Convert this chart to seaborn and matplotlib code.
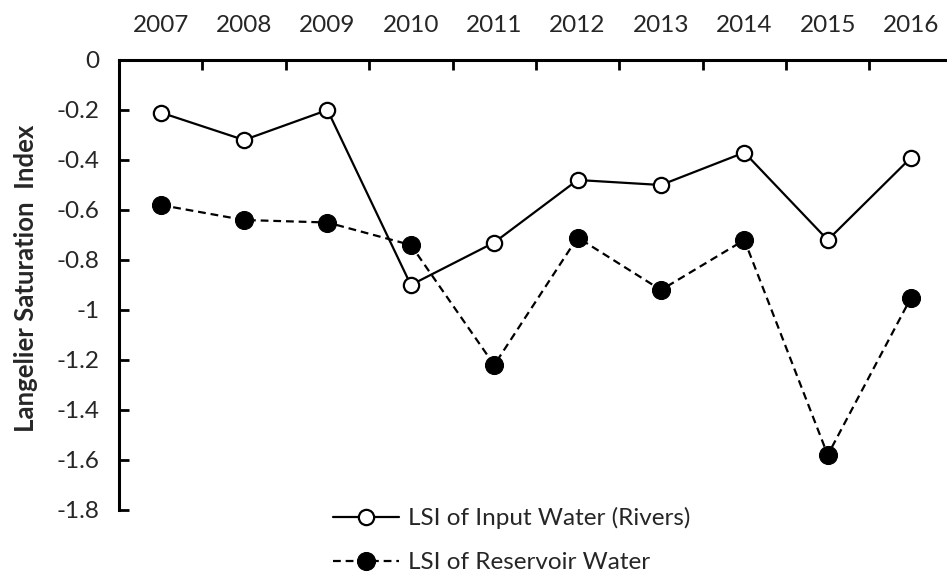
import matplotlib
matplotlib.use("Agg")
import matplotlib.pyplot as plt
import seaborn as sns
import numpy as np

years = ["2007", "2008", "2009", "2010", "2011", "2012", "2013", "2014", "2015", "2016"]
input_water = [-0.21, -0.32, -0.20, -0.90, -0.73, -0.48, -0.50, -0.37, -0.72, -0.39]
reservoir_water = [-0.58, -0.64, -0.65, -0.74, -1.22, -0.71, -0.92, -0.72, -1.58, -0.95]
y_ticks = [0, -0.2, -0.4, -0.6, -0.8, -1, -1.2, -1.4, -1.6, -1.8]
y_tick_labels = ["0", "-0.2", "-0.4", "-0.6", "-0.8", "-1", "-1.2", "-1.4", "-1.6", "-1.8"]
series_names = ["LSI of Input Water (Rivers)", "LSI of Reservoir Water"]

sns.set_style("white")
plt.rcParams["font.family"] = ["Lato", "DejaVu Sans"]
plt.rcParams["axes.unicode_minus"] = False

fig = plt.figure(figsize=(9.47, 5.74), dpi=100)
ax = fig.add_axes([119 / 947, 0.0, 1 - 119 / 947, 1 - 60 / 574])

x = np.arange(len(years))
sns.lineplot(x=x, y=input_water, ax=ax, color="black", linewidth=1.6,
             marker="o", markersize=11, markerfacecolor="white",
             markeredgecolor="black", markeredgewidth=1.6,
             label=series_names[0], zorder=3)
sns.lineplot(x=x, y=reservoir_water, ax=ax, color="black", linewidth=1.6,
             linestyle=(0, (3.5, 2.2)), marker="o", markersize=13,
             markerfacecolor="black", markeredgecolor="black",
             label=series_names[1], zorder=3)

ax.set_xlim(-0.5, 9.43)
ax.set_ylim(-2.056, 0)

for s in ["right", "bottom"]:
    ax.spines[s].set_visible(False)
for s in ["left", "top"]:
    ax.spines[s].set_visible(True)
    ax.spines[s].set_color("black")
    ax.spines[s].set_linewidth(2.2)
ax.spines["left"].set_bounds(-1.8, 0)

ax.xaxis.tick_top()
ax.set_xticks(np.arange(0.5, 9.5, 1.0))
ax.set_xticklabels([])
ax.set_xticks(x, minor=True)
ax.set_xticklabels(years, minor=True)
ax.tick_params(axis="x", which="major", direction="in", length=7, width=2,
               color="black", top=True, bottom=False)
ax.tick_params(axis="x", which="minor", length=0, pad=17, labelsize=17.5,
               top=True, bottom=False, labeltop=True, labelbottom=False)

ax.set_yticks(y_ticks)
ax.set_yticklabels(y_tick_labels)
ax.tick_params(axis="y", direction="in", length=7, width=2, color="black",
               left=True, pad=14, labelsize=17.5)

ax.set_ylabel("Langelier Saturation  Index", fontsize=18.5, fontweight="bold")
ax.yaxis.set_label_coords(-0.098, 1 - 218 / 514)
ax.grid(False)

leg = ax.legend(loc="upper left", bbox_to_anchor=(214 / 828, 67 / 514),
                frameon=False, fontsize=17.5, handlelength=2.7,
                handletextpad=0.4, labelspacing=0.95, borderaxespad=0,
                borderpad=0)

fig.savefig("out.png", dpi=100)
